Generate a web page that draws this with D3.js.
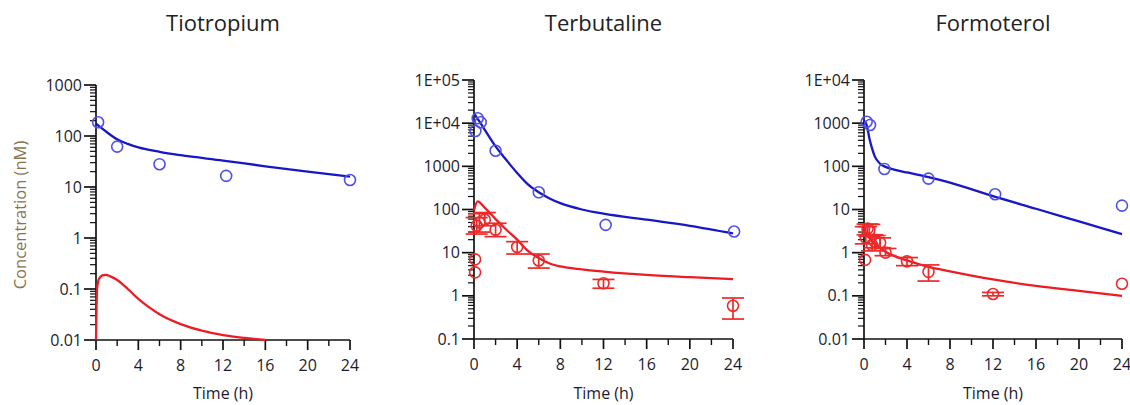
<!DOCTYPE html>
<html>
<head>
<meta charset="utf-8">
<script src="https://cdn.jsdelivr.net/npm/d3@7"></script>
<style>
  body { margin: 0; background: #fff; }
  svg { display: block; font-family: "Open Sans", "Noto Sans", sans-serif; }
</style>
</head>
<body>
<svg id="chart" width="1130" height="405"></svg>
<script>
// panel titles
const titles = ["Tiotropium", "Terbutaline", "Formoterol"];
const xTicks = [0, 4, 8, 12, 16, 20, 24];
const xMinor = [2, 6, 10, 14, 18, 22];

// Tiotropium: blue = plasma / obs, red = second compartment prediction
const tioBlueLine = [[0,175],[1,120],[2,86],[3,70],[4,60],[6,49],[8,42],[12,33],[16,25.5],[20,20],[24,16]];
const tioRedLine = [[0,0.01],[0.1,0.1],[0.3,0.16],[0.6,0.185],[0.9,0.19],[1.4,0.175],[2,0.15],[3,0.1],[4,0.064],[5,0.044],[6,0.032],[8,0.0205],[10,0.0152],[12,0.0125],[14,0.011],[16,0.01]];
const tioBlueObs = [[0.2,186],[2,62],[6,28],[12.3,16.5],[24,13.7]];
const tioRedObs = [];

// Terbutaline
const terBlueLine = [[0,17000],[0.25,13500],[0.5,11000],[1,7000],[2,2900],[3,1400],[4,700],[5,380],[6,250],[7,180],[8,140],[10,100],[12,80],[16,58],[20,42],[24,28]];
const terRedLine = [[0,95],[0.33,155],[1,110],[2,60],[3,34],[4,20],[5,11],[6,7.5],[7,5.6],[8,4.8],[10,4.1],[12,3.65],[16,3.05],[20,2.7],[24,2.45]];
const terBlueObs = [[0.13,6600],[0.34,13000],[0.62,10500],[2,2300],[6,250],[12.2,44],[24.1,31]];
// [time, value, low, high]
const terRedObs = [[0.1,7.0,null,null],[0.1,3.5,null,null],[0.25,42,27,65],[0.5,50,30,80],[1,58,42,85],[2,34,23.5,48],[4,13.5,9.3,18],[6,6.6,4.4,9.3],[12,1.95,1.5,2.4],[24,0.59,0.29,0.89]];

// Formoterol
const forBlueLine = [[0,1150],[0.25,900],[0.5,450],[0.75,260],[1,170],[1.5,115],[2,97],[3,82],[4,72],[6,56],[8,42],[12,20.4],[16,10.4],[20,5.3],[24,2.7]];
const forRedLine = [[0,3.0],[0.5,2.2],[1,1.6],[2,1.05],[4,0.66],[6,0.47],[8,0.37],[12,0.24],[16,0.17],[20,0.13],[24,0.1]];
const forBlueObs = [[0.25,1080],[0.56,910],[1.9,87],[6,52],[12.2,22.6],[24,12.3]];
const forRedObs = [[0.1,0.68,null,null],[0.17,2.2,1.6,4.0],[0.33,3.6,2.6,4.6],[0.5,3.3,2.4,4.5],[0.75,1.5,1.1,2.6],[1,1.8,1.3,2.5],[1.5,1.7,1.3,2.2],[2,1.0,0.85,1.25],[4,0.63,0.5,0.77],[6,0.36,0.22,0.52],[12,0.11,0.1,0.12],[24,0.19,null,null]];

const yDomains = [[0.01, 1000], [0.1, 1e5], [0.01, 1e4]];

const colors = {
  blueLine: "#1717c6",
  blueDot: "#5050e8",
  redLine: "#ec1c24",
  redDot: "#ec2a2a",
  axis: "#111",
  tick: "#1c1c2e",
  ytitle: "#87744f",
};

const panels = [
  { left: 96, right: 350, top: 85, bottom: 340, blueLine: tioBlueLine, redLine: tioRedLine, blueObs: tioBlueObs, redObs: tioRedObs },
  { left: 474, right: 733, top: 80, bottom: 339, blueLine: terBlueLine, redLine: terRedLine, blueObs: terBlueObs, redObs: terRedObs },
  { left: 864, right: 1122, top: 80, bottom: 339, blueLine: forBlueLine, redLine: forRedLine, blueObs: forBlueObs, redObs: forRedObs },
];

function fmtY(v) {
  if (v >= 1e4) return "1E+0" + Math.round(Math.log10(v));
  return String(+v.toPrecision(1));
}

const svg = d3.select("#chart");

panels.forEach((p, i) => {
  const g = svg.append("g");
  const x = d3.scaleLinear().domain([0, 24]).range([p.left, p.right]);
  const y = d3.scaleLog().domain(yDomains[i]).range([p.bottom, p.top]);

  // title
  g.append("text")
    .attr("x", (p.left + p.right) / 2)
    .attr("y", 31)
    .attr("text-anchor", "middle")
    .attr("font-size", 22)
    .attr("fill", "#222")
    .text(titles[i]);

  // y axis: decades major, 2..9 minor
  const [lo, hi] = yDomains[i];
  const majors = [];
  const minors = [];
  for (let e = Math.round(Math.log10(lo)); e <= Math.round(Math.log10(hi)); e++) {
    majors.push(Math.pow(10, e));
    if (Math.pow(10, e) < hi) for (let k = 2; k <= 9; k++) minors.push(k * Math.pow(10, e));
  }
  g.append("line")
    .attr("x1", p.left).attr("x2", p.left)
    .attr("y1", p.top).attr("y2", p.bottom)
    .attr("stroke", colors.axis).attr("stroke-width", 1.7);
  g.selectAll("line.ymin").data(minors).join("line")
    .attr("x1", p.left - 6).attr("x2", p.left)
    .attr("y1", d => y(d)).attr("y2", d => y(d))
    .attr("stroke", colors.axis).attr("stroke-width", 1.2);
  g.selectAll("line.ymaj").data(majors).join("line")
    .attr("x1", p.left - 12).attr("x2", p.left)
    .attr("y1", d => y(d)).attr("y2", d => y(d))
    .attr("stroke", colors.axis).attr("stroke-width", 1.7);
  g.selectAll("text.ylab").data(majors).join("text")
    .attr("x", p.left - 14)
    .attr("y", d => y(d))
    .attr("dy", "0.35em")
    .attr("text-anchor", "end")
    .attr("font-size", 16)
    .attr("fill", colors.tick)
    .text(fmtY);

  // x axis
  g.append("line")
    .attr("x1", p.left).attr("x2", p.right)
    .attr("y1", p.bottom).attr("y2", p.bottom)
    .attr("stroke", colors.axis).attr("stroke-width", 1.7);
  g.selectAll("line.xmaj").data(xTicks).join("line")
    .attr("x1", d => x(d)).attr("x2", d => x(d))
    .attr("y1", p.bottom).attr("y2", p.bottom + 10)
    .attr("stroke", colors.axis).attr("stroke-width", 1.7);
  g.selectAll("line.xmin").data(xMinor).join("line")
    .attr("x1", d => x(d)).attr("x2", d => x(d))
    .attr("y1", p.bottom).attr("y2", p.bottom + 6)
    .attr("stroke", colors.axis).attr("stroke-width", 1.4);
  g.selectAll("text.xlab").data(xTicks).join("text")
    .attr("x", d => x(d))
    .attr("y", p.bottom + 31)
    .attr("text-anchor", "middle")
    .attr("font-size", 16)
    .attr("fill", colors.tick)
    .text(d => d);
  g.append("text")
    .attr("x", (p.left + p.right) / 2)
    .attr("y", 399)
    .attr("text-anchor", "middle")
    .attr("font-size", 16)
    .attr("fill", colors.tick)
    .text("Time (h)");

  // model lines
  const line = d3.line()
    .x(d => x(d[0]))
    .y(d => y(d[1]))
    .curve(d3.curveMonotoneX);
  g.append("path").datum(p.blueLine)
    .attr("d", line).attr("fill", "none")
    .attr("stroke", colors.blueLine).attr("stroke-width", 2.3);
  g.append("path").datum(p.redLine)
    .attr("d", line).attr("fill", "none")
    .attr("stroke", colors.redLine).attr("stroke-width", 2.3);

  // observed, with error bars
  const eb = p.redObs.filter(d => d[2] != null);
  g.selectAll("line.ebv").data(eb).join("line")
    .attr("x1", d => x(d[0])).attr("x2", d => x(d[0]))
    .attr("y1", d => y(d[2])).attr("y2", d => y(d[3]))
    .attr("stroke", colors.redDot).attr("stroke-width", 1.7);
  ["lo", "hi"].forEach((k, j) => {
    g.selectAll("line.cap" + k).data(eb).join("line")
      .attr("x1", d => x(d[0]) - 11).attr("x2", d => x(d[0]) + 11)
      .attr("y1", d => y(d[2 + j])).attr("y2", d => y(d[2 + j]))
      .attr("stroke", colors.redDot).attr("stroke-width", 1.7);
  });
  g.selectAll("circle.red").data(p.redObs).join("circle")
    .attr("cx", d => x(d[0])).attr("cy", d => y(d[1]))
    .attr("r", 5.5).attr("fill", "none")
    .attr("stroke", colors.redDot).attr("stroke-width", 1.6);
  g.selectAll("circle.blue").data(p.blueObs).join("circle")
    .attr("cx", d => x(d[0])).attr("cy", d => y(d[1]))
    .attr("r", 5.5).attr("fill", "none")
    .attr("stroke", colors.blueDot).attr("stroke-width", 1.6);
});

// y title, first panel only
svg.append("text")
  .attr("transform", "translate(26,215) rotate(-90)")
  .attr("text-anchor", "middle")
  .attr("font-size", 16.5)
  .attr("fill", colors.ytitle)
  .text("Concentration (nM)");
</script>
</body>
</html>
